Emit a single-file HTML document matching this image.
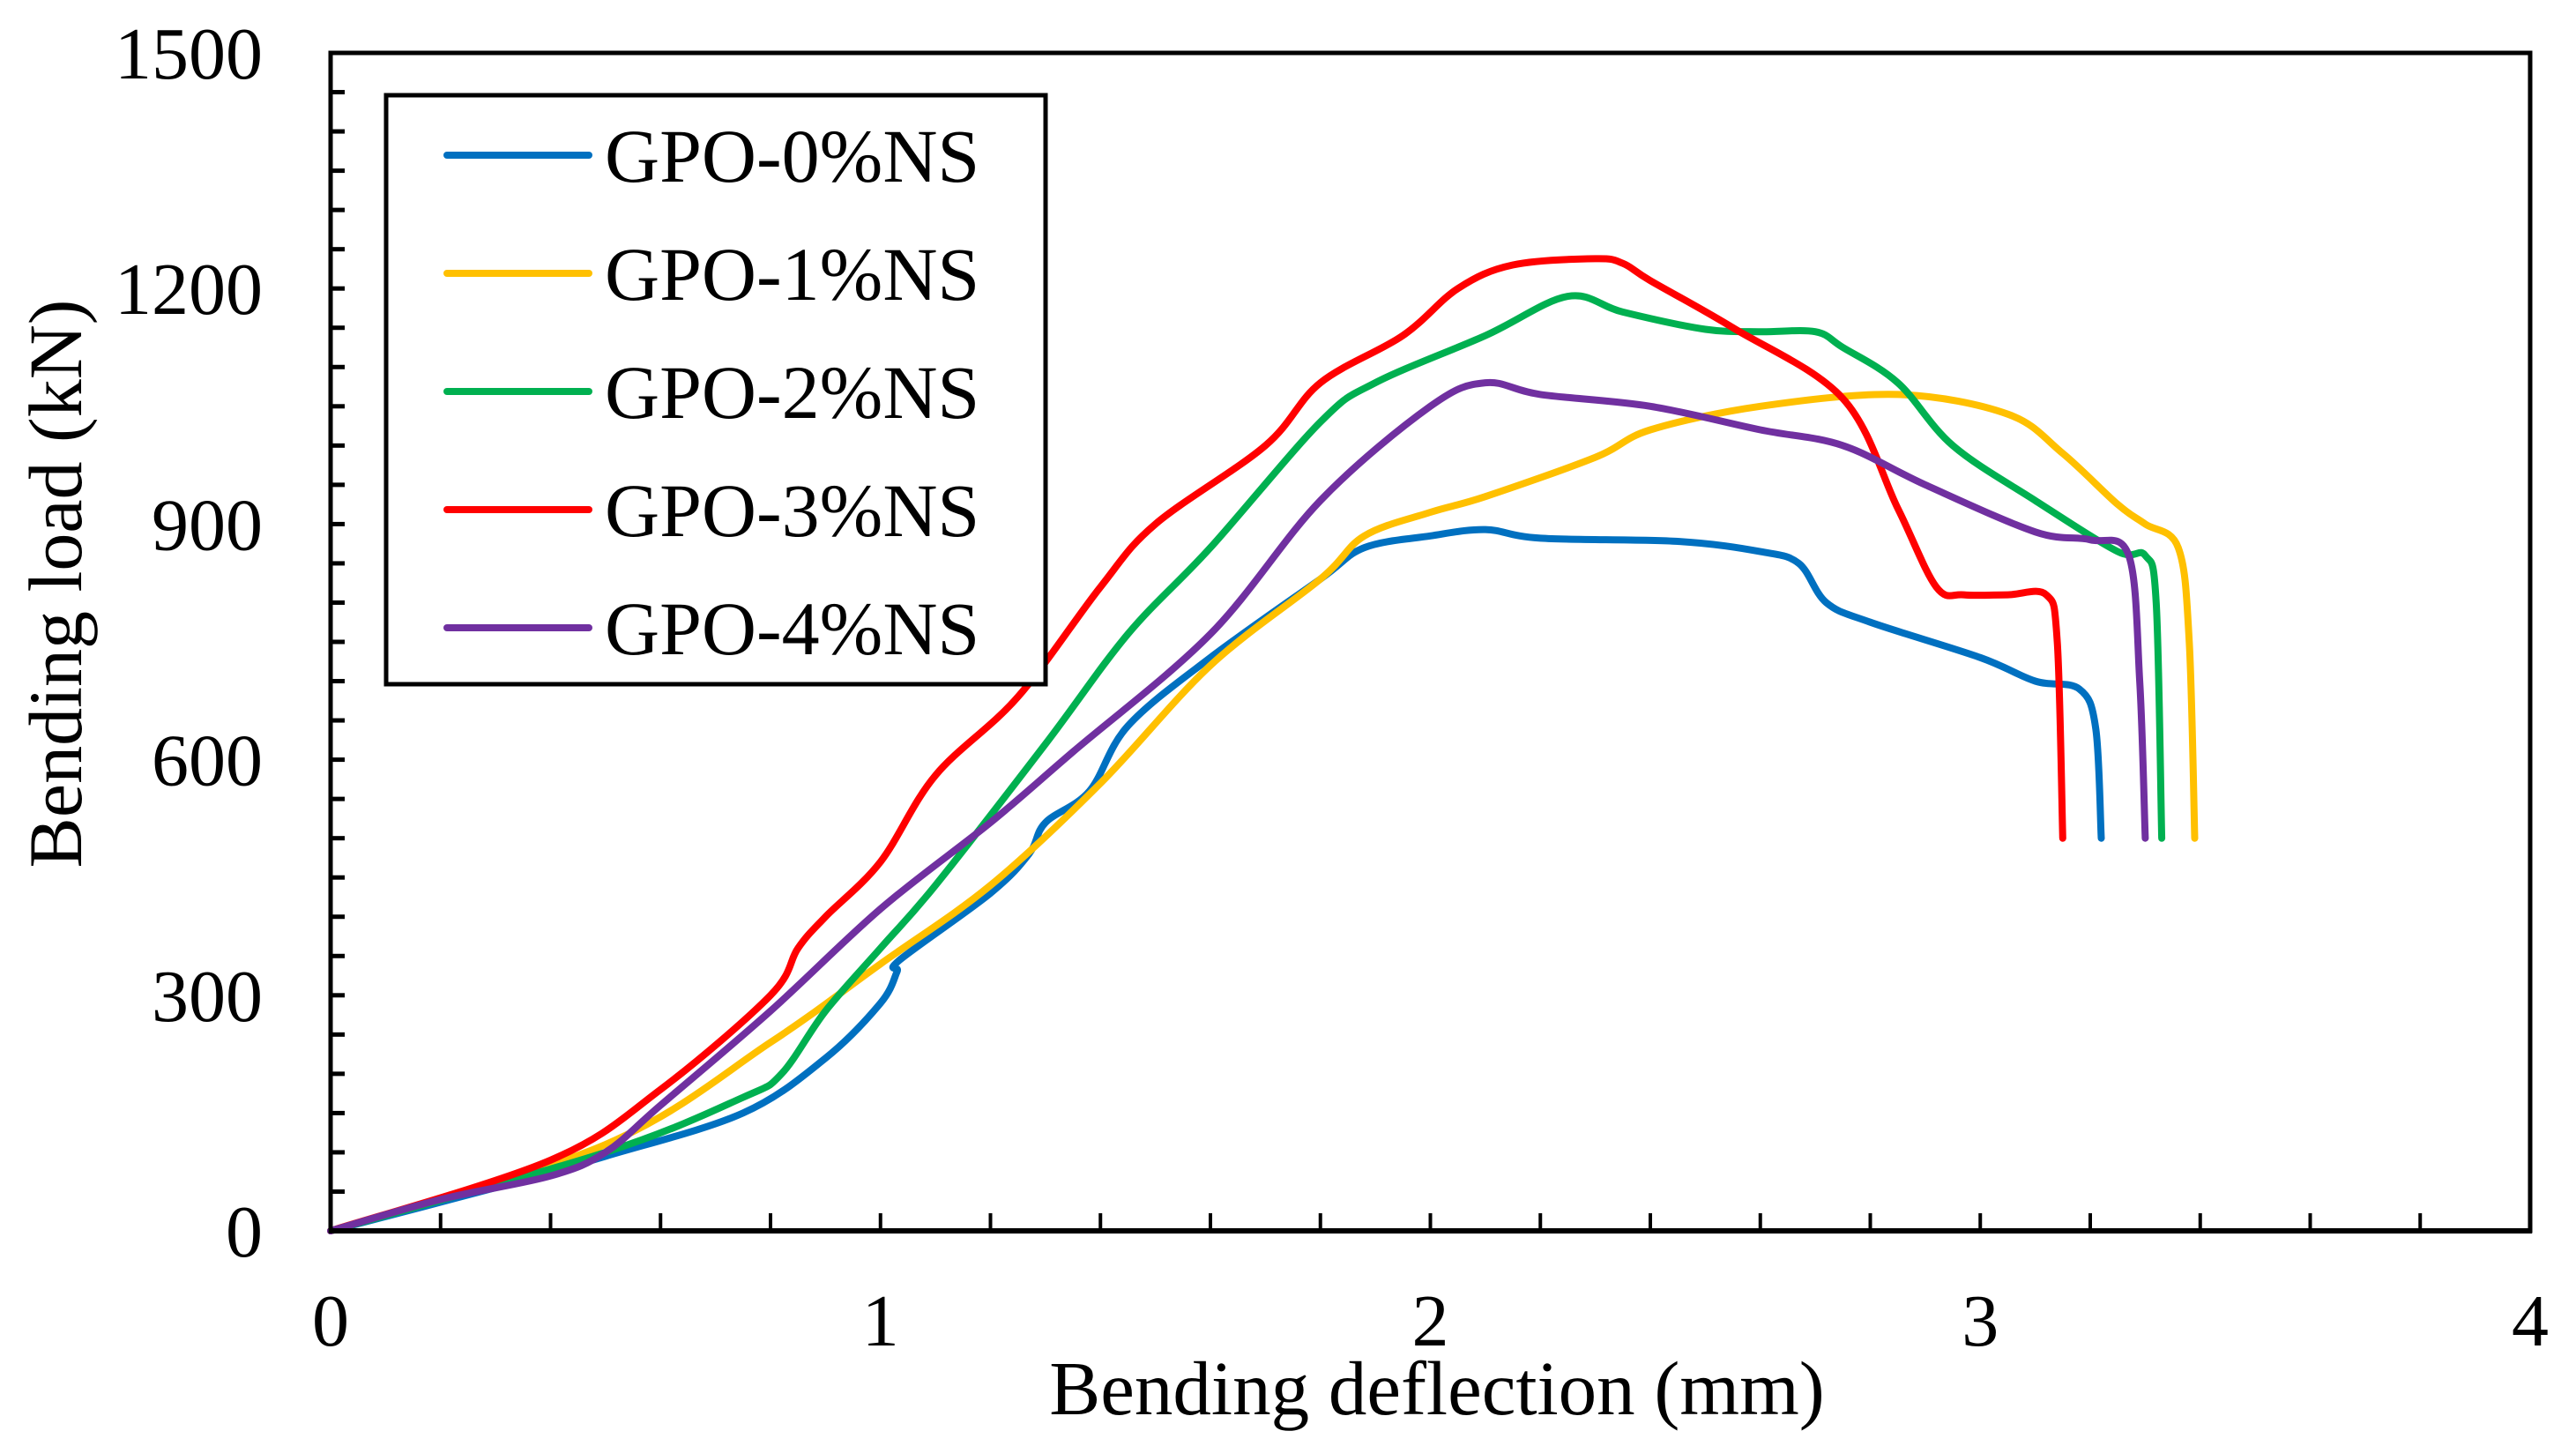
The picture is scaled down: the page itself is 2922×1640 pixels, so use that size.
<!DOCTYPE html>
<html><head><meta charset="utf-8">
<style>
html,body{margin:0;padding:0;background:#fff;}
svg{display:block;}
text{font-family:"Liberation Serif",serif;fill:#000;}
</style></head>
<body>
<svg id="chart" width="2922" height="1640" viewBox="0 0 2922 1640" xmlns="http://www.w3.org/2000/svg">
<rect width="2922" height="1640" fill="#fff"/>
<g id="ticks"></g>
<g id="series"></g>
<rect x="375" y="60" width="2495" height="1336" fill="none" stroke="#000" stroke-width="5"/>
<line x1="373" y1="1396" x2="2872" y2="1396" stroke="#000" stroke-width="6"/>
<g id="ylabels"></g>
<g id="xlabels"></g>
<text transform="translate(92,662) rotate(-90)" text-anchor="middle" font-size="86">Bending load (kN)</text>
<text x="1630" y="1604" text-anchor="middle" font-size="87">Bending deflection (mm)</text>
<g>
<rect x="438" y="108" width="748" height="668" fill="#fff" stroke="#000" stroke-width="5"/>
<g id="legend-items"></g>
</g>
</svg>
<script>
const xTicks = [0,1,2,3,4];
const yTicks = [0,300,600,900,1200,1500];
const seriesNames = ["GPO-0%NS","GPO-1%NS","GPO-2%NS","GPO-3%NS","GPO-4%NS"];
const seriesColors = ["#0070C0","#FFC000","#00B050","#FF0000","#7030A0"];
const x0 = [0,0.3,0.5,0.75,0.9,1.0,1.03,1.035,1.2,1.27,1.3,1.38,1.45,1.6,1.8,1.88,2.0,2.1,2.2,2.45,2.6,2.67,2.72,2.8,3.0,3.1,3.18,3.21,3.22];
const y0 = [0,55,95,150,220,290,330,345,430,480,520,560,643,730,830,870,885,893,882,878,865,850,800,775,730,700,690,640,500];
const x1 = [0,0.5,0.8,1.0,1.2,1.4,1.6,1.8,1.88,2.0,2.1,2.3,2.4,2.6,2.85,3.05,3.15,3.25,3.3,3.36,3.38,3.39];
const y1 = [0,110,240,340,440,570,720,830,885,915,935,985,1020,1050,1065,1040,990,925,900,870,750,500];
const x2 = [0,0.5,0.75,0.82,0.9,1.0,1.1,1.3,1.45,1.6,1.8,1.9,2.1,2.25,2.35,2.5,2.6,2.7,2.75,2.85,2.95,3.1,3.25,3.3,3.32,3.33];
const y2 = [0,100,170,200,280,360,440,620,760,870,1030,1080,1140,1190,1170,1148,1145,1145,1125,1080,1000,930,865,860,800,500];
const x3 = [0,0.4,0.6,0.8,0.85,0.9,1.0,1.1,1.25,1.4,1.5,1.7,1.8,1.95,2.05,2.15,2.3,2.35,2.4,2.55,2.75,2.85,2.92,2.97,3.05,3.12,3.14,3.15];
const y3 = [0,90,180,300,360,400,470,580,680,820,900,1000,1080,1140,1200,1230,1238,1232,1210,1150,1060,920,820,810,810,810,750,500];
const x4 = [0,0.2,0.4,0.5,0.6,0.8,1.0,1.2,1.35,1.6,1.8,2.0,2.1,2.2,2.4,2.6,2.75,2.9,3.1,3.2,3.27,3.29,3.3];
const y4 = [0,40,70,100,160,280,410,520,610,760,930,1050,1080,1065,1050,1020,1000,950,890,880,860,700,500];
const xs = [x0,x1,x2,x3,x4];
const ys = [y0,y1,y2,y3,y4];

const L=375,R=2870,T=60,B=1396;
function sx(v){return L+(v-0)/(4-0)*(R-L);}
function sy(v){return B-(v-0)/(1500-0)*(B-T);}
const NS="http://www.w3.org/2000/svg";
function mk(tag,attrs,parent){const e=document.createElementNS(NS,tag);for(const k in attrs)e.setAttribute(k,attrs[k]);parent.appendChild(e);return e;}

const tg=document.getElementById('ticks');
for(let v=50;v<1500;v+=50){
  const t=mk('line',{x1:L,x2:L+16,y1:sy(v),y2:sy(v),stroke:'#000','stroke-width':5},tg);
  
  
}
for(let i=1;i<20;i++){
  const v=i*0.2;
  const t=mk('line',{x1:sx(v),x2:sx(v),y1:B,y2:B-20,stroke:'#000','stroke-width':4},tg);
  
  
}
const yl=document.getElementById('ylabels');
yTicks.forEach(v=>{
  const t=mk('text',{x:298,y:sy(v)+29,'text-anchor':'end','font-size':84},yl);
  t.textContent=v;
  
  
});
const xl=document.getElementById('xlabels');
xTicks.forEach(v=>{
  const t=mk('text',{x:sx(v),y:1526,'text-anchor':'middle','font-size':84},xl);
  t.textContent=v;
  
  
});

function smoothPath(px,py){
  let d='M'+px[0]+','+py[0];
  for(let i=0;i<px.length-1;i++){
    const p0x=px[Math.max(i-1,0)],p0y=py[Math.max(i-1,0)];
    const p1x=px[i],p1y=py[i],p2x=px[i+1],p2y=py[i+1];
    const p3x=px[Math.min(i+2,px.length-1)],p3y=py[Math.min(i+2,px.length-1)];
    const c1x=p1x+(p2x-p0x)/6,c1y=p1y+(p2y-p0y)/6;
    const c2x=p2x-(p3x-p1x)/6,c2y=p2y-(p3y-p1y)/6;
    d+=' C'+c1x.toFixed(1)+','+c1y.toFixed(1)+' '+c2x.toFixed(1)+','+c2y.toFixed(1)+' '+p2x.toFixed(1)+','+p2y.toFixed(1);
  }
  return d;
}
const sg=document.getElementById('series');
xs.forEach((xa,i)=>{
  const px=xa.map(sx), py=ys[i].map(sy);
  const p=mk('path',{d:smoothPath(px,py),fill:'none',stroke:seriesColors[i],'stroke-width':8,'stroke-linejoin':'round','stroke-linecap':'round'},sg);
  
  
});
const lg=document.getElementById('legend-items');
seriesNames.forEach((n,i)=>{
  const y=176+i*134;
  const g=mk('g',{},lg);
  
  
  const l=mk('line',{x1:507,x2:668,y1:y,y2:y,stroke:seriesColors[i],'stroke-width':8,'stroke-linecap':'round'},g);
  
  
  const t=mk('text',{x:686,y:y+30,'font-size':86},g);
  t.textContent=n;
  
  
});
</script>
</body></html>
